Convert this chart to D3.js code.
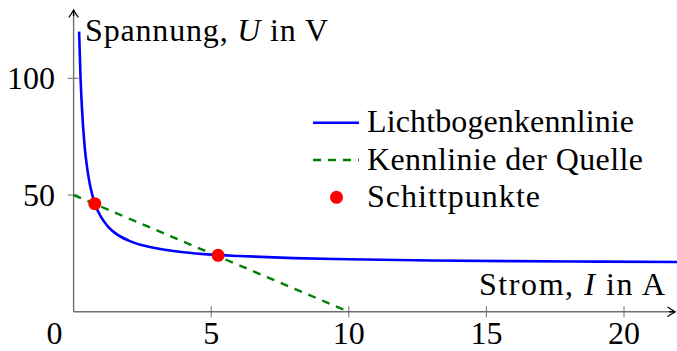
<!DOCTYPE html>
<html><head><meta charset="utf-8">
<script src="https://cdn.jsdelivr.net/npm/d3@7"></script>
<style>body{margin:0;background:#fff}svg{display:block}</style>
</head><body>
<script>
// Data
const arcCurrent = [0.2,0.25,0.3,0.4,0.5,0.6,0.8,1,1.25,1.5,2,2.5,3,4,5,6,8,10,13,16,19,22];
const arcVoltage = [120,101,88,71,61,54,45.5,40.5,36.5,33.8,30.5,28.5,27.2,25.5,24.5,23.9,23.0,22.5,22.0,21.7,21.5,21.3];
const sourceCurrent = [0,10];
const sourceVoltage = [50,0];
const crossCurrent = [0.77,5.25];
const crossVoltage = [46.3,24.2];
const xTicks = [0,5,10,15,20];
const yTicks = [50,100];
const legendLabels = ["Lichtbogenkennlinie","Kennlinie der Quelle","Schittpunkte"];

const W=677,H=351;
const FONT="'Liberation Serif', 'Times New Roman', serif";
const svg=d3.select("body").append("svg").attr("width",W).attr("height",H)
  .attr("font-family",FONT);
const x=d3.scaleLinear().domain([0,20]).range([73.6,624]);
const y=d3.scaleLinear().domain([0,100]).range([311.8,78.3]);
const FS=32;
const axisCol="#6e6e6e";
function txt(){return svg.append("text").attr("font-family",FONT).attr("font-size",FS).attr("fill","#000");}

// axes lines
svg.append("line").attr("x1",x(0)).attr("x2",674).attr("y1",y(0)).attr("y2",y(0)).attr("stroke",axisCol).attr("stroke-width",1.4);
svg.append("line").attr("x1",x(0)).attr("x2",x(0)).attr("y1",y(0)).attr("y2",11).attr("stroke",axisCol).attr("stroke-width",1.4);
function arrow(tx,ty,rot){
  svg.append("path").attr("d","M-7,-4.5 Q-2,-1 0,0 Q-2,1 -7,4.5")
    .attr("transform",`translate(${tx},${ty}) rotate(${rot})`)
    .attr("fill","none").attr("stroke","#000").attr("stroke-width",1.3).attr("stroke-linecap","round");
  svg.append("line").attr("x1",tx).attr("y1",ty).attr("x2",tx-6*Math.cos(rot*Math.PI/180)).attr("y2",ty-6*Math.sin(rot*Math.PI/180)).attr("stroke","#000").attr("stroke-width",1.4);
}
arrow(675,y(0),0);
arrow(x(0),10,-90);

// ticks
xTicks.forEach(t=>{
  if(t>0) svg.append("line").attr("x1",x(t)).attr("x2",x(t)).attr("y1",y(0)-5.5).attr("y2",y(0)+5.5).attr("stroke",axisCol).attr("stroke-width",1);
  txt().attr("x",t===0?x(t)-19:x(t)).attr("y",344).attr("text-anchor","middle").text(t);
});
yTicks.forEach(t=>{
  svg.append("line").attr("x1",x(0)-6).attr("x2",x(0)+5).attr("y1",y(t)).attr("y2",y(t)).attr("stroke",axisCol).attr("stroke-width",1);
  txt().attr("x",55).attr("y",y(t)+11).attr("text-anchor","end").text(t);
});

// axis labels
const yl=txt().attr("x",85).attr("y",41).attr("textLength",243);
yl.append("tspan").text("Spannung, ");
yl.append("tspan").attr("font-style","italic").text("U");
yl.append("tspan").text(" in V");
const xl=txt().attr("x",479).attr("y",295).attr("textLength",186);
xl.append("tspan").text("Strom, ");
xl.append("tspan").attr("font-style","italic").text("I");
xl.append("tspan").text(" in A");

// source line
svg.append("path").datum(d3.zip(sourceCurrent,sourceVoltage))
  .attr("d",d3.line().x(d=>x(d[0])).y(d=>y(d[1])))
  .attr("fill","none").attr("stroke","#008000").attr("stroke-width",2.4).attr("stroke-dasharray","8,7");
// arc curve
svg.append("path").datum(d3.zip(arcCurrent,arcVoltage))
  .attr("d",d3.line().x(d=>x(d[0])).y(d=>y(d[1])).curve(d3.curveMonotoneX))
  .attr("fill","none").attr("stroke","#0000ff").attr("stroke-width",2.6);
// intersection points
svg.selectAll("circle.pt").data(d3.zip(crossCurrent,crossVoltage)).enter().append("circle")
  .attr("cx",d=>x(d[0])).attr("cy",d=>y(d[1])).attr("r",6.5).attr("fill","#ff0000");

// legend
const lx0=313,lx1=359,tx=367,rowY=[122.7,160,197.3];
const legendWidths=[267,276,173];
svg.append("line").attr("x1",lx0).attr("x2",lx1).attr("y1",rowY[0]).attr("y2",rowY[0]).attr("stroke","#0000ff").attr("stroke-width",2.6);
svg.append("line").attr("x1",lx0).attr("x2",lx1).attr("y1",rowY[1]).attr("y2",rowY[1]).attr("stroke","#008000").attr("stroke-width",2.4).attr("stroke-dasharray","8,7");
svg.append("circle").attr("cx",336.5).attr("cy",rowY[2]).attr("r",6.5).attr("fill","#ff0000");
legendLabels.forEach((l,i)=>{
  txt().attr("x",tx).attr("y",rowY[i]+9.5).attr("textLength",legendWidths[i]).text(l);
});
</script>
</body></html>
